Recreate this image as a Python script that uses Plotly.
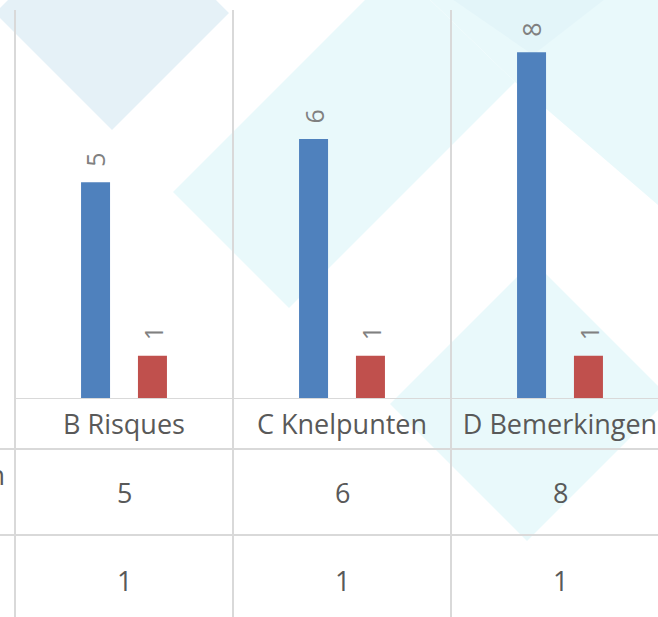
"""
Aantal per rubriek - staafdiagram met gegevenstabel
"""

import plotly.graph_objects as go

# gegevens
categories = ["B Risques", "C Knelpunten", "D Bemerkingen"]
series_names = ["Aantal opmerkingen", "Opgelost"]
values_blue = [5, 6, 8]
values_red = [1, 1, 1]

W, H = 658, 617
BLUE = "#4f81bd"
RED = "#c0504d"
GRID = "#d9d9d9"
TEXT = "#595959"
LABEL = "#808080"
FONT = "Open Sans"


def px(x, y):
    """pixel -> paper coordinaten (marges 0)"""
    return x / W, 1 - y / H


def poly(points, color):
    path = "M " + " L ".join(f"{px(x, y)[0]:.4f},{px(x, y)[1]:.4f}" for x, y in points) + " Z"
    return dict(type="path", xref="paper", yref="paper", path=path,
                fillcolor=color, line=dict(width=0), layer="below")


fig = go.Figure()

fig.add_trace(go.Bar(
    x=categories, y=values_blue, name=series_names[0],
    marker=dict(color=BLUE, line=dict(width=0)),
    width=0.133, offset=-0.197
))
fig.add_trace(go.Bar(
    x=categories, y=values_red, name=series_names[1],
    marker=dict(color=RED, line=dict(width=0)),
    width=0.133, offset=0.064
))

# achtergrond decoratie (ruiten)
shapes = [
    poly([(112, -104), (229, 13), (112, 130), (-5, 13)], "#e5f1f7"),
    poly([(173, 192), (289, 308), (515, 82), (397, -32)], "#e9f9fb"),
    poly([(420, -10), (515, 82), (700, 241), (700, -10)], "#e9f9fb"),
    poly([(452, -1), (533, 55), (605, -1)], "#e3f5f9"),
    poly([(533, 261), (390, 404), (527, 541), (670, 398)], "#e9f9fb"),
]

# rasterlijnen tussen categorieen, doorlopend in de tabel
for b in [-0.5, 0.5, 1.5, 2.5]:
    shapes.append(dict(type="line", xref="x", yref="paper", x0=b, x1=b,
                       y0=0, y1=px(0, 10)[1], line=dict(color=GRID, width=2)))
# tabel lijnen
shapes.append(dict(type="line", xref="x", yref="y", x0=-0.5, x1=2.6, y0=0, y1=0,
                   line=dict(color=GRID, width=2)))
for ypix in [449, 535]:
    shapes.append(dict(type="line", xref="paper", yref="paper", x0=0, x1=1,
                       y0=px(0, ypix)[1], y1=px(0, ypix)[1],
                       line=dict(color=GRID, width=2)))

annotations = []
# gegevenslabels boven de staven
for vals, shift in [(values_blue, -28.5), (values_red, 28.5)]:
    for cat, v in zip(categories, vals):
        annotations.append(dict(
            x=cat, y=v, xref="x", yref="y", text=str(v), showarrow=False,
            textangle=-90, yanchor="bottom", xanchor="center",
            xshift=shift, yshift=13,
            font=dict(family=FONT, size=25, color=LABEL)
        ))

# gegevenstabel
for vals, ypix in [(values_blue, 492), (values_red, 580)]:
    for cat, v in zip(categories, vals):
        annotations.append(dict(
            x=cat, y=px(0, ypix)[1], xref="x", yref="paper", text=str(v),
            xanchor="center", yanchor="middle",
            showarrow=False, font=dict(family=FONT, size=27, color=TEXT)
        ))
# rijkop valt links buiten beeld, zoals in het origineel
annotations.append(dict(
    x=px(7, 0)[0], y=px(0, 474)[1], xref="paper", yref="paper",
    text=series_names[0], xanchor="right", yanchor="middle", showarrow=False,
    font=dict(family=FONT, size=27, color=TEXT)
))

fig.update_layout(
    width=W, height=H,
    margin=dict(l=0, r=0, t=0, b=0),
    paper_bgcolor="white",
    plot_bgcolor="rgba(0,0,0,0)",
    showlegend=False,
    barmode="overlay",
    shapes=shapes,
    annotations=annotations,
    xaxis=dict(
        domain=[0, 1], range=[-124 / 218, 534 / 218],
        showgrid=False, zeroline=False, showline=False, ticks="",
        tickfont=dict(family=FONT, size=27, color=TEXT),
        ticklabelstandoff=7, automargin=False
    ),
    yaxis=dict(
        domain=[px(0, 399)[1], px(0, 9)[1]], range=[0, 9],
        showgrid=False, zeroline=False, showline=False,
        showticklabels=False, ticks="", automargin=False
    ),
)

# standaard body-marge van de pagina weghalen
fig.write_html("out.html", config={"displayModeBar": False},
               post_script="document.body.style.margin='0';")
